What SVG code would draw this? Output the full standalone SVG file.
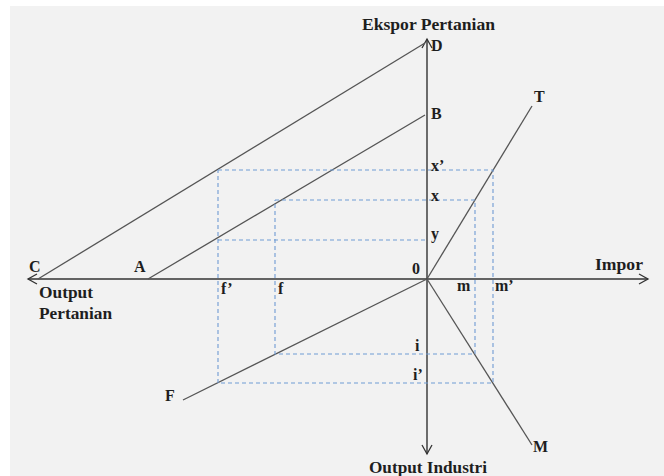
<svg xmlns="http://www.w3.org/2000/svg" width="664" height="476" viewBox="0 0 664 476">
<style>
.bg{fill:#f2f2f2}
.axis{stroke:#333;stroke-width:1.4;fill:none}
.ln{stroke:#555;stroke-width:1.3;fill:none}
.dash{stroke:#6f9bd4;stroke-width:1.1;stroke-dasharray:4 3;fill:none}
.t{font-family:"Liberation Serif","Times New Roman",serif;font-size:16px;font-weight:bold;fill:#1e1e1e}
</style>
<defs>
<marker id="arr" markerWidth="12" markerHeight="12" refX="10" refY="6" orient="auto" markerUnits="userSpaceOnUse">
<path d="M1,1 L10,6 L1,11" fill="none" stroke="#333" stroke-width="1.3"/>
</marker>
</defs>
<rect x="0" y="0" width="664" height="476" fill="#ffffff"/>
<rect class="bg" x="10" y="6" width="654" height="470"/>
<g id="connectors">
<line class="axis" x1="427" y1="279" x2="427" y2="39" marker-end="url(#arr)"/>
<line class="axis" x1="427" y1="279" x2="427" y2="454" marker-end="url(#arr)"/>
<line class="axis" x1="427" y1="279" x2="648" y2="279" marker-end="url(#arr)"/>
<line class="axis" x1="427" y1="279" x2="28" y2="279" marker-end="url(#arr)"/>
<line class="ln" x1="38" y1="279" x2="425" y2="43"/>
<line class="ln" x1="148" y1="279" x2="425" y2="115"/>
<line class="ln" x1="427" y1="279" x2="532" y2="106"/>
<line class="ln" x1="427" y1="279" x2="532" y2="445"/>
<line class="ln" x1="427" y1="279" x2="183" y2="400"/>
<polyline class="dash" points="218,170 493,170 493,383 218,383 218,170"/>
<polyline class="dash" points="275,200 475,200 475,354 275,354 275,200"/>
<line class="dash" x1="218" y1="240" x2="427" y2="240"/>
</g>
<g id="label-ekspor"><text class="t" x="362" y="30" textLength="133" lengthAdjust="spacingAndGlyphs">Ekspor Pertanian</text></g>
<g id="node-D"><text class="t" x="431" y="51">D</text></g>
<g id="node-B"><text class="t" x="431" y="119">B</text></g>
<g id="node-T"><text class="t" x="534" y="102">T</text></g>
<g id="node-x2"><text class="t" x="431" y="171">x’</text></g>
<g id="node-x"><text class="t" x="431" y="201">x</text></g>
<g id="node-y"><text class="t" x="431" y="239">y</text></g>
<g id="node-0"><text class="t" x="412" y="274">0</text></g>
<g id="node-C"><text class="t" x="29" y="272">C</text></g>
<g id="node-A"><text class="t" x="134" y="272">A</text></g>
<g id="label-impor"><text class="t" x="595" y="270" textLength="48" lengthAdjust="spacingAndGlyphs">Impor</text></g>
<g id="label-output-pertanian"><text class="t" x="39" y="298" textLength="54" lengthAdjust="spacingAndGlyphs">Output</text><text class="t" x="39" y="319" textLength="73" lengthAdjust="spacingAndGlyphs">Pertanian</text></g>
<g id="node-f2"><text class="t" x="221" y="294">f’</text></g>
<g id="node-f"><text class="t" x="278" y="294">f</text></g>
<g id="node-m"><text class="t" x="457" y="291">m</text></g>
<g id="node-m2"><text class="t" x="495" y="291">m’</text></g>
<g id="node-i"><text class="t" x="415" y="351">i</text></g>
<g id="node-i2"><text class="t" x="413" y="380">i’</text></g>
<g id="node-F"><text class="t" x="165" y="401">F</text></g>
<g id="node-M"><text class="t" x="533" y="452">M</text></g>
<g id="label-output-industri"><text class="t" x="369" y="473" textLength="118" lengthAdjust="spacingAndGlyphs">Output Industri</text></g>
</svg>
